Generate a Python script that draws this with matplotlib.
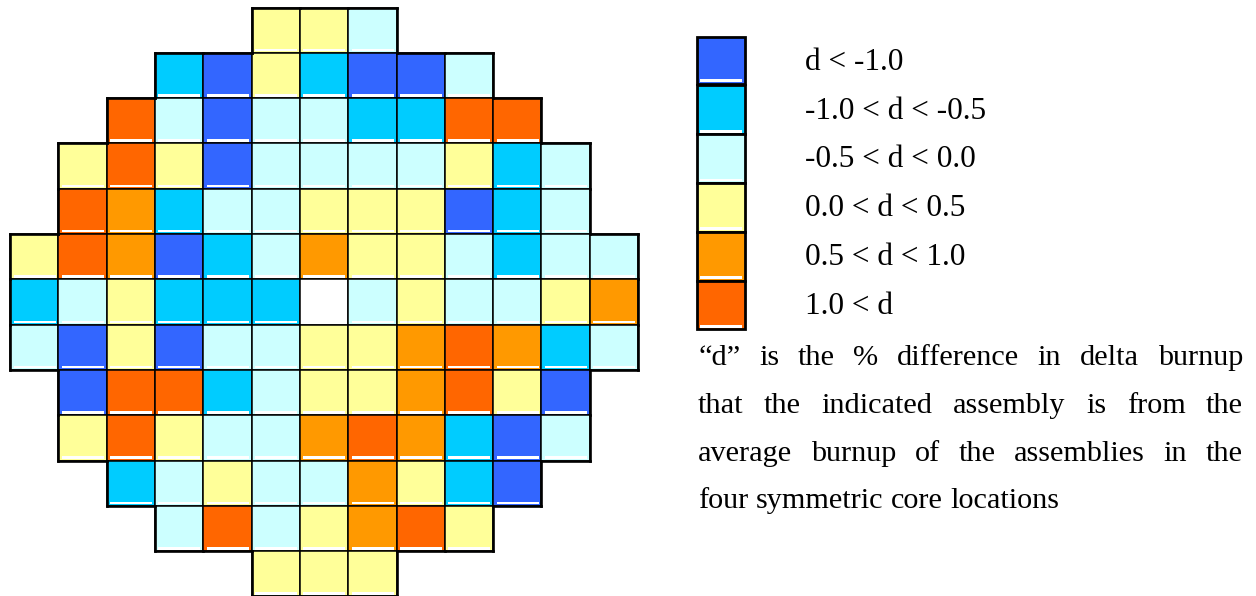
import matplotlib
matplotlib.use("Agg")
import matplotlib.pyplot as plt
from matplotlib.patches import Rectangle
from matplotlib.collections import LineCollection

plt.rcParams["font.family"] = ["Liberation Serif", "DejaVu Serif"]

# difference classes, lowest to highest
CLASS_LABELS = [
    "d < -1.0",
    "-1.0 < d < -0.5",
    "-0.5 < d < 0.0",
    "0.0 < d < 0.5",
    "0.5 < d < 1.0",
    "1.0 < d",
]
CLASS_COLORS = ["#3366FF", "#00CCFF", "#CCFFFF", "#FFFF99", "#FF9900", "#FF6600"]

# core map: first occupied column of each row and the class of each assembly
# (-1 marks the centre location with no value)
ROW_START = [5, 3, 2, 1, 1, 0, 0, 0, 1, 1, 2, 3, 5]
ROW_CLASSES = [
    [3, 3, 2],
    [1, 0, 3, 1, 0, 0, 2],
    [5, 2, 0, 2, 2, 1, 1, 5, 5],
    [3, 5, 3, 0, 2, 2, 2, 2, 3, 1, 2],
    [5, 4, 1, 2, 2, 3, 3, 3, 0, 1, 2],
    [3, 5, 4, 0, 1, 2, 4, 3, 3, 2, 1, 2, 2],
    [1, 2, 3, 1, 1, 1, -1, 2, 3, 2, 2, 3, 4],
    [2, 0, 3, 0, 2, 2, 3, 3, 4, 5, 4, 1, 2],
    [0, 5, 5, 1, 2, 3, 3, 4, 5, 3, 0],
    [3, 5, 3, 2, 2, 4, 5, 4, 1, 0, 2],
    [1, 2, 3, 2, 2, 4, 3, 1, 0],
    [2, 5, 2, 3, 4, 5, 3],
    [3, 3, 3],
]

NOTE_LINES = [
    "\u201cd\u201d is the % difference in delta burnup",
    "that the indicated assembly is from the",
    "average burnup of the assemblies in the",
    "four symmetric core locations",
]

W, H = 1256, 596
FONT_SIZE = 22.5
NOTE_SIZE = 21.8
fig = plt.figure(figsize=(W / 100, H / 100), dpi=100)


def px_box(x0, y0, x1, y1):
    return [x0 / W, 1 - y1 / H, (x1 - x0) / W, (y1 - y0) / H]


def draw_cell(ax, x, y, color, h=1.0, lw=1.1):
    ax.add_patch(Rectangle((x, y), 1, h, facecolor=color, edgecolor="black",
                           linewidth=lw, clip_on=False))
    # thin highlight strip along the lower edge of each tile
    ax.add_patch(Rectangle((x + 0.07, y + h - 0.09), 0.87, 0.055,
                           facecolor="white", edgecolor="none", clip_on=False))


# ---- core map ----
n = len(ROW_START)
ax = fig.add_axes(px_box(10.2, 7.5, 638.0, 7.5 + 13 * 45.3))
ax.set_xlim(0, n)
ax.set_ylim(n, 0)
ax.axis("off")

occupied = set()
for r, (start, classes) in enumerate(zip(ROW_START, ROW_CLASSES)):
    for k, cls in enumerate(classes):
        c = start + k
        occupied.add((r, c))
        if cls < 0:
            ax.add_patch(Rectangle((c, r), 1, 1, facecolor="white", edgecolor="black",
                                   linewidth=1.1, clip_on=False))
        else:
            draw_cell(ax, c, r, CLASS_COLORS[cls])

# heavier outline around the outer boundary of the core
segs = []
for r, c in occupied:
    if (r - 1, c) not in occupied:
        segs.append([(c, r), (c + 1, r)])
    if (r + 1, c) not in occupied:
        segs.append([(c, r + 1), (c + 1, r + 1)])
    if (r, c - 1) not in occupied:
        segs.append([(c, r), (c, r + 1)])
    if (r, c + 1) not in occupied:
        segs.append([(c + 1, r), (c + 1, r + 1)])
ax.add_collection(LineCollection(segs, colors="black", linewidths=1.9,
                                 capstyle="projecting", clip_on=False))

# ---- legend ----
lax = fig.add_axes(px_box(697, 36.7, 745, 329.3))
lax.set_xlim(0, 1)
lax.set_ylim(len(CLASS_LABELS), 0)
lax.axis("off")
for i, (label, color) in enumerate(zip(CLASS_LABELS, CLASS_COLORS)):
    h = 0.96 if i == 0 else 1.0
    draw_cell(lax, 0, i, color, h=h, lw=2.0)
    lax.text(2.25, i + 0.5 + 0.18, label, fontsize=FONT_SIZE, va="baseline",
             ha="left", clip_on=False)

# ---- justified note below the legend ----
left, right = 698, 1243
baselines = [365, 413, 461, 508]
renderer = fig.canvas.get_renderer()


def text_width(s):
    t = fig.text(0, 0, s, fontsize=NOTE_SIZE)
    w = t.get_window_extent(renderer).width
    t.remove()
    return w


space_w = text_width("a a") - text_width("aa")

for li, (line, yb) in enumerate(zip(NOTE_LINES, baselines)):
    words = line.split(" ")
    texts = [fig.text(0, 1 - yb / H, w, fontsize=NOTE_SIZE, va="baseline", ha="left")
             for w in words]
    widths = [t.get_window_extent(renderer).width for t in texts]
    if li < len(NOTE_LINES) - 1:
        gap = (right - left - sum(widths)) / (len(words) - 1)
    else:
        gap = space_w  # last line stays ragged
    x = left
    for t, w in zip(texts, widths):
        t.set_x(x / W)
        x += w + gap

fig.savefig("out.png", dpi=100)
